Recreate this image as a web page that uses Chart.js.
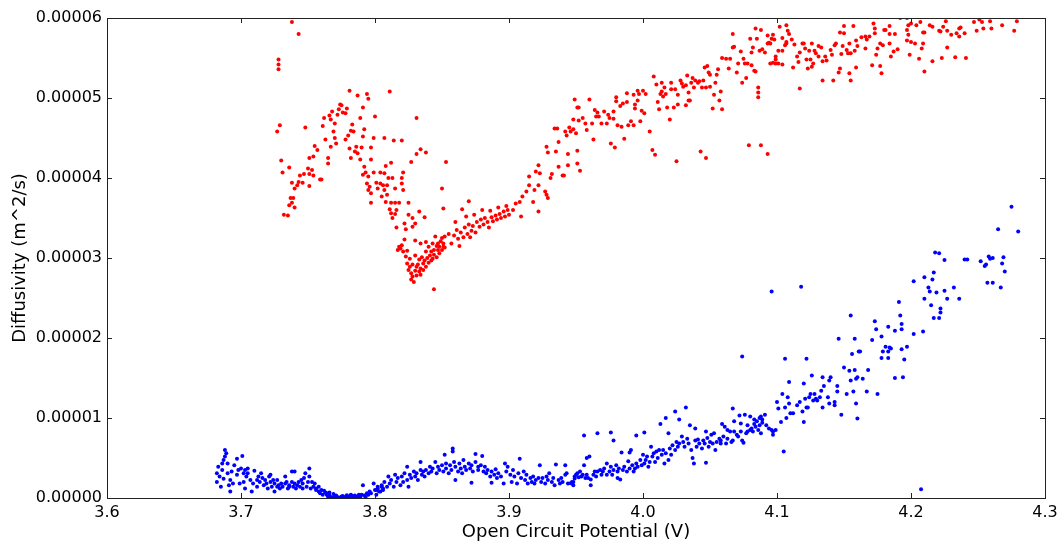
<!DOCTYPE html>
<html>
<head>
<meta charset="utf-8">
<script src="https://cdn.jsdelivr.net/npm/chart.js@4"></script>
<style>
  body { margin: 0; background: #fff; }
  canvas { display: block; }
</style>
</head>
<body>
<canvas id="diffChart" width="1064" height="543"></canvas>
<script>
// axis ranges and ticks
const xTicks = [3.6, 3.7, 3.8, 3.9, 4.0, 4.1, 4.2, 4.3];
const yTicks = [0, 0.00001, 0.00002, 0.00003, 0.00004, 0.00005, 0.00006];

// diffusivity values below are in units of 1e-6 m^2/s: [OCP (V), D]
const upper = [
  [3.738,59.5],[3.743,58.0],[3.728,54.8],[3.728,54.2],[3.728,53.6],[3.729,46.6],[3.727,45.8],[3.730,42.2],[3.731,40.7],[3.736,41.3],[3.732,35.4],[3.735,35.3],
  [3.737,37.5],[3.738,36.9],[3.736,36.6],[3.740,36.3],[3.739,37.5],[3.738,39.4],[3.740,38.7],[3.742,39.1],[3.743,39.5],[3.746,39.4],[3.744,40.3],[3.747,40.5],[3.748,46.3],[3.751,39.0],[3.750,41.2],[3.751,40.5],[3.753,41.0],[3.754,40.3],[3.751,42.5],[3.754,42.7],[3.755,44.0],[3.757,43.5],[3.759,39.8],[3.760,39.8],[3.761,46.5],[3.762,47.5],[3.763,44.8],[3.765,41.8],[3.765,42.5],[3.766,47.8],[3.767,47.3],[3.767,43.9],[3.768,48.3],[3.769,45.8],[3.770,46.8],[3.770,45.0],[3.771,44.3],[3.772,47.9],[3.773,48.6],[3.774,49.2],[3.775,49.1],[3.776,48.2],[3.778,44.8],[3.778,48.1],[3.779,48.7],[3.780,45.3],[3.781,50.9],[3.781,43.7],[3.782,45.9],[3.782,42.5],[3.783,46.7],[3.784,45.8],[3.785,43.3],[3.786,43.9],[3.787,50.3],[3.787,43.1],[3.789,47.5],[3.789,42.3],[3.790,43.8],[3.791,48.8],[3.791,45.2],[3.792,41.4],[3.792,46.1],[3.791,40.4],[3.793,40.7],[3.794,50.5],[3.795,49.9],[3.794,39.3],[3.795,40.2],[3.795,38.5],[3.796,38.9],[3.797,43.8],[3.797,42.3],[3.797,38.1],[3.797,36.9],[3.799,45.0],[3.800,47.7],[3.799,40.7],[3.801,39.4],[3.802,38.7],[3.804,40.7],[3.804,39.3],[3.805,37.7],[3.806,39.1],[3.807,45.0],[3.807,40.6],[3.808,41.5],[3.807,38.5],[3.809,37.9],[3.809,39.1],[3.808,37.0],[3.810,40.0],[3.811,50.8],[3.811,36.1],[3.812,35.6],[3.812,36.9],[3.812,41.9],[3.813,35.0],[3.813,40.0],[3.814,44.7],[3.815,38.7],[3.815,36.9],[3.815,35.5],[3.816,33.8],[3.816,36.0],[3.818,36.9],[3.820,44.7],[3.820,39.3],[3.820,40.0],[3.821,38.5],[3.821,40.7],[3.822,34.3],[3.823,33.6],[3.825,36.9],[3.825,35.4],[3.827,42.0],[3.828,35.0],[3.828,33.9],[3.830,34.3],[3.831,47.5],[3.831,43.0],[3.833,35.8],[3.834,43.6],[3.837,35.1],[3.838,43.2],[3.850,38.7],[3.851,36.2],[3.853,42.0],[3.870,37.1],[3.865,36.1],[3.844,26.1],
  [3.817,31.0],[3.818,31.4],[3.819,31.2],[3.820,31.6],[3.821,30.8],[3.822,32.3],[3.823,30.2],[3.824,29.3],[3.824,30.9],[3.825,28.5],[3.826,29.9],[3.826,28.9],[3.827,28.1],[3.827,27.3],[3.828,29.2],[3.828,27.7],[3.829,27.0],[3.830,30.3],[3.830,28.4],[3.831,28.9],[3.831,27.8],[3.832,29.2],[3.833,28.3],[3.833,29.8],[3.834,28.7],[3.834,27.9],[3.835,30.1],[3.836,29.3],[3.836,28.5],[3.837,29.7],[3.838,30.8],[3.838,28.9],[3.839,30.0],[3.840,31.4],[3.840,29.4],[3.841,30.3],[3.842,29.7],[3.842,30.8],[3.843,31.8],[3.843,29.9],[3.844,31.0],[3.844,30.4],[3.845,32.7],[3.846,31.5],[3.846,30.1],[3.847,31.0],[3.847,31.8],[3.848,30.6],[3.848,31.4],[3.849,32.1],[3.850,31.0],[3.850,32.5],[3.851,31.4],[3.851,31.8],[3.852,32.7],[3.852,31.3],[3.830,32.2],[3.834,31.8],[3.838,32.0],
  [3.855,33.0],[3.857,31.8],[3.859,32.8],[3.861,33.5],[3.862,32.4],[3.864,33.2],[3.866,32.6],[3.867,33.8],[3.869,33.0],[3.870,34.2],[3.872,33.4],[3.873,34.0],[3.875,33.2],[3.876,34.5],[3.878,33.9],[3.879,34.8],[3.881,34.2],[3.882,35.0],[3.884,34.5],[3.885,33.8],[3.887,35.1],[3.888,34.6],[3.890,35.3],[3.891,34.8],[3.893,35.5],[3.894,35.0],[3.896,35.8],[3.897,35.2],[3.899,36.0],[3.900,35.4],[3.868,35.2],[3.874,35.4],[3.880,36.0],[3.886,35.9],[3.892,36.3],[3.898,36.5],[3.860,34.5],[3.863,31.5],[3.871,32.6],
  [3.908,37.0],[3.910,37.7],[3.913,38.3],[3.915,39.1],[3.915,40.2],[3.919,38.5],[3.920,40.8],[3.922,41.6],[3.923,40.6],[3.922,39.1],[3.927,38.3],[3.928,37.9],[3.929,37.5],[3.922,35.8],[3.918,37.0],[3.905,36.8],[3.903,36.0],[3.909,35.2],
  [3.928,43.9],[3.929,43.2],[3.931,40.0],[3.932,40.5],[3.934,46.2],[3.936,46.2],[3.937,44.5],[3.937,41.4],[3.935,43.3],[3.940,40.3],[3.941,40.3],[3.942,45.8],[3.943,45.3],[3.944,43.0],[3.944,41.6],[3.945,46.3],[3.946,45.8],[3.948,46.1],[3.950,45.6],[3.949,49.8],[3.951,48.8],[3.952,48.8],[3.951,43.4],[3.951,41.8],[3.953,40.9],[3.948,47.3],[3.952,47.2],
  [3.955,47.5],[3.957,46.8],[3.958,46.0],[3.960,49.8],[3.962,46.8],[3.963,44.8],[3.964,48.5],[3.965,47.7],[3.966,48.2],[3.967,47.7],[3.969,46.8],[3.971,48.3],[3.973,46.8],[3.974,47.9],[3.975,47.5],[3.976,44.3],[3.978,47.4],[3.978,48.3],[3.979,43.8],[3.980,50.1],[3.980,49.6],[3.981,46.6],[3.983,49.0],[3.984,46.4],[3.985,49.3],[3.986,44.9],[3.988,49.5],[3.988,50.6],[3.989,46.6],[3.991,47.1],[3.993,46.6],[3.993,50.4],[3.994,49.2],[3.994,48.7],[3.996,49.7],[3.996,50.9],[3.997,50.5],[3.998,47.1],[3.999,48.4],[4.000,50.9],[4.001,48.1],[4.002,50.5],
  [4.005,45.8],[4.007,43.5],[4.009,42.9],[4.008,52.7],[4.010,51.7],[4.011,49.5],[4.012,48.6],[4.013,50.5],[4.014,51.9],[4.014,50.8],[4.015,50.2],[4.016,51.3],[4.017,50.5],[4.018,48.8],[4.020,47.3],[4.021,51.1],[4.021,51.9],[4.023,48.8],[4.024,51.1],[4.026,50.4],[4.026,49.2],[4.025,42.1],[4.028,52.2],[4.029,51.8],[4.030,51.4],[4.032,51.6],[4.032,49.1],[4.033,52.8],[4.034,49.7],[4.034,50.7],[4.035,49.7],[4.036,51.9],[4.037,52.5],[4.038,51.3],[4.039,52.2],[4.041,51.9],[4.042,52.1],[4.044,51.3],[4.045,52.2],[4.046,53.8],[4.043,43.3],[4.047,51.3],[4.048,54.0],[4.047,42.5],[4.049,53.2],[4.050,51.4],[4.050,52.9],[4.052,48.7],[4.053,50.4],[4.054,51.9],[4.055,52.9],[4.056,53.6],[4.057,49.7],[4.058,50.8],[4.059,48.6],
  [4.059,55.0],[4.062,54.9],[4.064,53.7],[4.065,54.9],[4.067,56.3],[4.067,58.0],[4.068,56.4],[4.070,53.2],[4.071,54.3],[4.073,55.8],[4.074,51.9],[4.075,54.9],[4.076,54.3],[4.077,52.5],[4.078,54.3],[4.080,57.4],[4.079,44.1],[4.081,55.7],[4.082,56.3],[4.084,53.3],[4.084,58.7],[4.085,57.4],[4.086,51.3],[4.086,50.7],[4.086,50.1],[4.087,55.9],[4.088,58.5],[4.088,44.1],[4.089,56.1],[4.091,55.7],[4.093,57.8],[4.093,43.0],[4.094,56.9],[4.095,54.3],[4.096,57.4],[4.097,54.4],[4.098,57.3],[4.099,54.8],[4.099,54.3],[4.101,54.3],
  [4.081,54.1],[4.083,53.4],[4.093,56.8],[4.095,56.8],[4.097,57.9],[4.099,55.2],[4.102,58.9],[4.101,55.9],[4.104,54.2],[4.104,55.9],[4.104,57.5],[4.106,56.6],[4.107,57.0],[4.107,59.1],[4.108,58.4],[4.109,58.0],[4.107,56.8],[4.111,57.3],[4.112,53.8],[4.113,56.7],[4.115,55.2],[4.116,54.5],[4.117,51.2],[4.117,55.7],[4.119,56.8],[4.120,56.8],[4.121,56.2],[4.122,54.8],[4.123,53.7],[4.124,55.9],[4.125,54.8],[4.126,56.8],[4.126,53.9],[4.127,54.3],[4.128,55.9],[4.129,55.6],[4.131,56.5],[4.131,55.2],[4.133,56.3],[4.134,52.2],[4.134,54.6],[4.136,55.2],[4.137,54.7],[4.140,56.0],[4.141,55.4],[4.142,52.2],[4.143,56.6],[4.144,56.8],[4.146,53.2],[4.147,53.7],[4.147,58.2],[4.148,55.5],[4.149,56.5],[4.150,59.0],[4.150,58.1],[4.152,56.0],[4.153,55.6],[4.154,53.1],[4.154,56.8],[4.155,52.2],[4.155,55.6],[4.157,59.0],[4.158,55.9],[4.159,53.8],[4.159,57.2],[4.160,56.5],[4.163,57.6],[4.166,56.2],[4.166,57.7],[4.167,57.3],[4.169,57.7],[4.171,54.1],[4.172,59.3],[4.173,58.1],[4.173,58.7],[4.174,55.4],[4.175,56.2],[4.177,56.8],[4.177,54.0],[4.178,53.1],[4.179,56.6],[4.180,58.5],[4.181,58.5],[4.184,59.0],[4.184,58.0],[4.184,56.8],[4.185,55.2],[4.187,55.8],[4.188,58.0],[4.190,56.1],[4.192,60.0],[4.197,60.0],[4.197,58.5],[4.197,57.2],[4.198,57.9],[4.198,59.1],[4.199,55.4],[4.200,59.3],[4.200,57.0],[4.203,56.8],[4.204,59.1],[4.206,54.9],[4.207,59.5],[4.208,56.2],[4.209,58.2],[4.209,56.8],[4.210,53.3],[4.210,58.2],[4.214,59.1],[4.216,58.9],[4.216,54.6],[4.221,58.4],[4.222,58.3],[4.223,55.0],[4.224,58.9],[4.226,59.6],[4.227,58.4],[4.227,56.3],[4.230,57.9],[4.233,55.1],[4.234,58.1],[4.236,58.7],[4.236,57.7],[4.237,58.8],[4.240,58.1],[4.241,55.0],[4.247,59.5],[4.249,58.4],[4.251,59.8],[4.253,59.5],[4.254,58.7],[4.259,59.6],[4.260,58.7],[4.268,59.1],[4.277,58.4],[4.279,59.6]
];

const lower = [
  [3.682,3.08],[3.682,2.0],[3.683,3.9],[3.684,2.7],[3.685,1.4],[3.686,3.5],[3.686,4.3],[3.687,2.4],[3.687,4.75],[3.688,5.2],[3.688,6.0],[3.689,5.6],[3.690,4.3],[3.690,3.1],[3.691,1.6],[3.692,0.8],[3.692,2.25],[3.693,3.3],[3.694,1.8],[3.695,4.1],[3.697,4.9],[3.697,2.9],[3.698,3.5],[3.699,1.8],[3.700,3.7],[3.701,5.25],[3.702,3.1],[3.702,2.0],[3.703,3.5],[3.703,1.2],[3.704,2.7],[3.705,3.7],[3.705,3.1],[3.707,2.25],[3.708,0.8],[3.709,1.8],[3.710,3.4],[3.712,2.25],[3.712,1.4],[3.713,2.7],[3.714,2.0],[3.715,3.1],[3.716,2.5],[3.717,1.6],[3.718,2.25],[3.719,1.8],[3.720,1.2],[3.721,2.7],[3.722,2.9],[3.722,2.0],[3.723,1.4],[3.724,2.25],[3.725,0.8],[3.725,1.8],[3.727,1.4],[3.727,2.25],[3.728,1.6],[3.729,1.2],[3.730,1.8],[3.731,1.4],[3.733,2.7],[3.733,1.8],[3.734,2.0],[3.735,1.2],[3.736,1.6],[3.736,1.4],[3.738,3.3],[3.738,2.0],[3.739,1.4],[3.740,3.3],[3.740,1.8],[3.741,1.2],[3.742,1.6],[3.743,2.0],[3.744,1.4],[3.745,2.25],[3.746,1.2],[3.746,1.8],[3.747,2.5],[3.748,3.1],[3.749,1.4],[3.750,2.0],[3.751,2.7],[3.751,3.7],[3.752,1.2],[3.753,2.0],[3.754,1.4],[3.755,1.8],[3.756,1.0],[3.756,1.2],[3.758,0.8],[3.758,1.4],[3.759,0.6],[3.760,1.0],[3.761,0.4],[3.763,0.7],[3.764,0.4],[3.765,0.2],[3.766,0.3],[3.767,0.1],[3.770,0.2],[3.772,0.1],[3.775,0.2],[3.777,0.1],[3.780,0.2],[3.782,0.4],[3.784,0.1],[3.785,0.3],[3.787,0.2],[3.790,0.4],[3.791,1.6],[3.792,0.3],[3.794,0.6],[3.795,0.4],[3.796,0.8],[3.797,0.6],[3.799,1.8],[3.800,1.0],[3.801,0.4],[3.802,1.2],[3.803,0.8],[3.805,1.4],[3.806,1.0],
  [3.768,0.05],[3.771,0.3],[3.773,0.05],[3.776,0.25],[3.778,0.0],[3.779,0.35],[3.781,0.05],[3.783,0.25],[3.786,0.05],[3.788,0.4],[3.789,0.1],[3.793,0.15],[3.762,0.9],[3.764,0.6],[3.766,0.7],[3.769,0.5],
  [3.801,1.0],[3.802,1.4],[3.804,0.8],[3.805,1.6],[3.806,1.2],[3.807,2.0],[3.809,1.4],[3.810,2.7],[3.811,1.8],[3.812,2.25],[3.814,1.4],[3.815,2.9],[3.816,2.0],[3.817,2.5],[3.819,1.6],[3.820,2.7],[3.821,2.0],[3.822,3.1],[3.824,2.25],[3.824,3.9],[3.825,1.4],[3.826,2.9],[3.827,2.5],[3.829,3.3],[3.830,2.7],[3.831,3.1],[3.832,2.25],[3.834,3.5],[3.834,4.5],[3.835,2.9],[3.836,3.3],[3.837,2.7],[3.838,3.5],[3.840,3.1],[3.841,3.9],[3.842,3.3],[3.843,3.7],[3.845,4.5],[3.846,3.1],[3.847,3.9],[3.848,3.5],[3.850,4.1],[3.851,3.3],[3.852,5.4],[3.853,4.3],[3.853,3.7],[3.855,3.1],[3.856,4.1],[3.857,3.5],[3.858,6.2],[3.858,5.8],[3.859,4.5],[3.860,3.9],[3.860,2.25],[3.862,3.3],[3.863,4.3],[3.864,3.7],[3.865,3.1],[3.866,4.75],[3.867,3.9],[3.868,3.5],[3.870,4.3],[3.871,3.7],[3.872,1.9],[3.872,4.1],[3.873,3.3],[3.875,5.5],[3.875,4.5],[3.877,3.9],[3.877,3.5],[3.879,4.1],[3.880,5.25],[3.881,3.3],[3.882,3.9],[3.883,3.1],[3.884,3.5],[3.886,2.7],[3.887,3.3],[3.887,1.9],[3.889,2.9],[3.890,3.6],[3.891,2.5],[3.892,3.1],[3.894,2.7],[3.896,1.8],[3.897,4.3],[3.898,3.3],[3.899,3.9],[3.901,2.9],[3.902,2.0],[3.903,3.5],[3.904,2.7],[3.906,1.8],[3.907,3.1],[3.908,4.9],[3.909,2.5],[3.911,3.3],[3.912,2.25],[3.913,2.9],[3.914,1.8],[3.916,2.5],[3.917,2.0],[3.918,2.7],[3.919,1.8],[3.920,2.25],[3.922,2.5],[3.923,4.1],[3.924,2.0],[3.925,2.5],[3.927,1.8],[3.928,2.7],[3.929,2.25],[3.930,3.1],[3.932,2.0],[3.933,2.5],[3.934,1.6],[3.935,4.2],[3.937,2.25],[3.938,1.8],[3.939,2.5],[3.940,2.0],[3.942,2.9],[3.942,4.1],[3.943,3.1],[3.944,1.8],[3.947,2.0],[3.948,1.6],[3.949,2.7],
  [3.946,1.83],[3.948,2.0],[3.949,2.45],[3.950,2.9],[3.951,3.1],[3.952,2.6],[3.953,3.3],[3.954,2.7],[3.955,2.9],[3.956,4.1],[3.956,7.8],[3.957,2.5],[3.958,2.9],[3.958,5.0],[3.959,2.5],[3.960,5.2],[3.961,1.6],[3.961,2.3],[3.963,2.9],[3.964,3.3],[3.965,2.7],[3.966,8.1],[3.966,3.3],[3.968,3.5],[3.969,2.9],[3.970,3.3],[3.971,3.7],[3.973,2.9],[3.973,4.3],[3.975,3.3],[3.976,3.9],[3.976,8.2],[3.977,2.9],[3.978,7.2],[3.978,3.5],[3.980,4.1],[3.981,3.3],[3.981,2.5],[3.982,3.7],[3.983,2.3],[3.984,5.7],[3.985,3.5],[3.986,3.9],[3.988,3.3],[3.989,4.6],[3.990,5.7],[3.990,3.7],[3.991,6.0],[3.992,4.1],[3.993,3.3],[3.994,3.7],[3.995,7.8],[3.995,4.3],[3.996,3.9],[3.998,4.75],[3.999,4.1],[4.000,5.4],[4.001,4.3],[4.001,8.2],[4.002,4.75],[4.003,5.2],[4.004,3.9],[4.005,4.5],[4.006,6.4],[4.007,5.2],[4.008,5.6],[4.009,4.5],[4.010,5.8],[4.011,5.0],[4.012,6.0],[4.013,9.25],[4.014,5.4],[4.015,6.0],[4.016,4.3],[4.017,10.0],[4.017,5.6],[4.019,4.75],[4.019,8.1],[4.020,6.2],[4.021,5.4],[4.022,6.6],[4.024,6.0],[4.024,10.8],[4.025,7.0],[4.026,6.4],[4.027,9.8],[4.027,6.8],[4.029,7.7],[4.030,7.0],[4.031,6.4],[4.032,11.3],[4.033,7.4],[4.034,6.8],[4.035,9.1],[4.036,6.0],[4.037,5.0],[4.038,4.3],[4.039,8.7],[4.039,7.2],[4.040,6.4],[4.041,7.3],[4.042,6.8],[4.044,6.2],[4.045,7.2],[4.046,6.8],[4.047,4.4],[4.047,8.3],[4.048,7.5],[4.049,6.4],[4.050,7.0],[4.051,7.9],[4.052,6.8],[4.053,8.1],[4.054,6.0],[4.055,7.0],[4.057,7.4],[4.058,6.8],[4.058,7.2],[4.059,9.25],[4.060,7.7],[4.061,8.9],[4.062,6.8],[4.063,8.5],[4.063,7.4],[4.065,8.3],[4.066,7.0],[4.067,7.2],[4.067,11.2],[4.068,9.6],[4.068,8.3],[4.070,7.9],[4.071,7.7],[4.072,10.3],[4.073,8.3],[4.073,9.3],[4.074,7.2],[4.075,6.9],[4.076,10.4],[4.077,8.1],[4.078,8.3],[4.078,9.1],[4.080,8.5],[4.080,10.2],[4.081,8.7],[4.082,8.3],[4.083,9.25],[4.083,9.8],[4.084,8.9],[4.085,9.6],[4.086,8.5],[4.087,10.0],[4.087,9.1],[4.088,8.1],[4.088,10.2],[4.089,9.8],[4.089,9.4],[4.091,10.4],[4.092,9.1],[4.094,8.7],[4.096,8.5],[4.097,7.9],[4.097,8.3],[4.099,8.5],
  [4.074,17.7],[4.096,25.8],[4.100,12.0],[4.101,11.2],[4.103,9.5],[4.104,13.0],[4.105,5.8],[4.106,11.3],[4.106,17.4],[4.107,10.0],[4.108,12.6],[4.109,11.8],[4.109,14.5],[4.110,10.6],[4.112,10.6],[4.115,11.6],[4.117,12.0],[4.118,26.4],[4.119,10.8],[4.120,14.3],[4.120,9.5],[4.121,12.4],[4.122,11.3],[4.122,17.4],[4.123,11.3],[4.124,12.6],[4.125,13.0],[4.126,15.3],[4.127,12.2],[4.128,13.0],[4.129,12.4],[4.130,12.2],[4.132,12.6],[4.133,13.4],[4.134,15.1],[4.134,11.3],[4.135,14.0],[4.138,12.6],[4.139,11.8],[4.139,14.7],[4.140,15.1],[4.143,12.0],[4.143,11.6],[4.145,14.0],[4.145,13.3],[4.146,19.9],[4.148,10.4],[4.150,16.3],[4.152,13.0],[4.154,15.9],[4.155,14.7],[4.155,22.8],[4.156,18.0],[4.157,13.3],[4.158,16.0],[4.158,19.9],[4.159,14.9],[4.159,11.8],[4.160,15.1],[4.160,9.95],[4.161,18.3],[4.162,18.3],[4.164,14.9],[4.167,13.3],[4.168,16.0],[4.171,19.75],[4.173,22.1],[4.174,21.1],[4.175,13.0],[4.178,17.5],[4.178,20.2],[4.179,18.3],[4.181,18.9],[4.183,21.4],[4.183,18.3],[4.183,17.5],[4.184,18.8],[4.185,18.7],[4.188,15.0],[4.188,20.9],[4.191,24.5],[4.192,22.8],[4.193,21.1],[4.193,18.6],[4.193,21.75],[4.194,15.1],[4.195,17.3],[4.197,18.9],[4.202,27.1],[4.202,20.5],[4.2075,1.1],[4.209,20.8],[4.210,27.6],[4.210,24.9],[4.213,26.3],[4.214,25.8],[4.215,24.1],[4.216,27.3],[4.217,22.5],[4.217,28.2],[4.218,30.7],[4.219,25.7],[4.221,30.6],[4.221,22.5],[4.222,23.7],[4.222,23.2],[4.225,25.9],[4.225,29.75],[4.227,24.9],[4.232,26.3],[4.236,24.9],[4.240,29.8],[4.242,29.8],[4.252,29.6],[4.255,29.0],[4.256,29.2],[4.257,26.9],[4.258,30.2],[4.259,29.9],[4.261,30.0],[4.261,26.9],[4.265,33.6],[4.267,26.3],[4.268,29.3],[4.269,30.1],[4.270,28.3],[4.275,36.4],[4.280,33.3]
];

const MICRO = 1e-6;
const toXY = pts => pts.map(p => ({ x: p[0], y: p[1] * MICRO }));

// frame and inward tick marks, matplotlib style
const frameTicks = {
  id: 'frameTicks',
  afterDraw(chart) {
    const { ctx, chartArea: a, scales } = chart;
    ctx.save();
    ctx.strokeStyle = '#222';
    ctx.lineWidth = 1;
    ctx.strokeRect(Math.round(a.left) + 0.5, Math.round(a.top) + 0.5,
      Math.round(a.right - a.left), Math.round(a.bottom - a.top));
    const len = 5;
    ctx.beginPath();
    scales.x.ticks.forEach(t => {
      const x = Math.round(scales.x.getPixelForValue(t.value)) + 0.5;
      ctx.moveTo(x, a.bottom); ctx.lineTo(x, a.bottom - len);
      ctx.moveTo(x, a.top); ctx.lineTo(x, a.top + len);
    });
    scales.y.ticks.forEach(t => {
      const y = Math.round(scales.y.getPixelForValue(t.value)) + 0.5;
      ctx.moveTo(a.left, y); ctx.lineTo(a.left + len, y);
      ctx.moveTo(a.right, y); ctx.lineTo(a.right - len, y);
    });
    ctx.stroke();
    ctx.restore();
  }
};

const tickFont = { family: 'DejaVu Sans', size: 16 };
const titleFont = { family: 'DejaVu Sans', size: 18 };

new Chart(document.getElementById('diffChart'), {
  type: 'scatter',
  data: {
    datasets: [
      { label: 'upper', data: toXY(upper), backgroundColor: '#ff0000', pointRadius: 2, borderWidth: 0 },
      { label: 'lower', data: toXY(lower), backgroundColor: '#0000ff', pointRadius: 2, borderWidth: 0 }
    ]
  },
  options: {
    responsive: false,
    animation: false,
    devicePixelRatio: 1,
    layout: { padding: { left: 0, top: 18, right: 19, bottom: 0 } },
    plugins: { legend: { display: false }, tooltip: { enabled: false } },
    scales: {
      x: {
        type: 'linear',
        min: xTicks[0],
        max: xTicks[xTicks.length - 1],
        afterBuildTicks: s => { s.ticks = xTicks.map(v => ({ value: v })); },
        afterFit: s => { s.height = 45; },
        grid: { display: false, drawTicks: false },
        border: { display: false },
        ticks: { color: '#000', font: tickFont, padding: 5, maxRotation: 0,
          callback: v => Number(v).toFixed(1) },
        title: { display: true, text: 'Open Circuit Potential (V)', color: '#000', font: titleFont, padding: { top: 0, bottom: 0 } }
      },
      y: {
        min: yTicks[0],
        max: yTicks[yTicks.length - 1],
        afterBuildTicks: s => { s.ticks = yTicks.map(v => ({ value: v })); },
        afterFit: s => { s.width = 107; },
        grid: { display: false, drawTicks: false },
        border: { display: false },
        ticks: { color: '#000', font: tickFont, padding: 5,
          callback: v => Number(v).toFixed(5) },
        title: { display: true, text: 'Diffusivity (m^2/s)', color: '#000', font: titleFont, padding: { top: 10, bottom: 0 } }
      }
    }
  },
  plugins: [frameTicks]
});
</script>
</body>
</html>
